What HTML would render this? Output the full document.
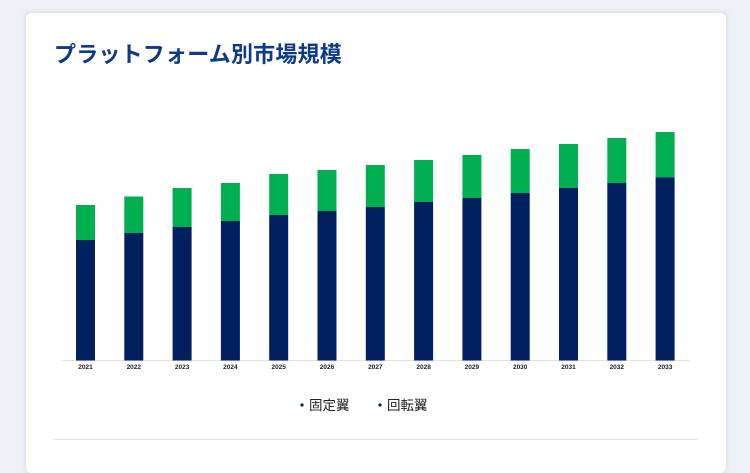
<!DOCTYPE html>
<html><head><meta charset="utf-8"><style>
html,body{margin:0;width:750px;height:453px;background:#eef1f6;overflow:hidden;font-family:"Liberation Sans","Noto Sans CJK JP",sans-serif}
.card{position:absolute;left:26px;top:13px;width:700px;height:460px;background:#fff;border-radius:6px;box-shadow:0 0 6px rgba(150,165,190,.35)}
h1{position:absolute;left:54px;top:37px;margin:0;font-size:22px;font-weight:bold;color:#0d3a8a;font-family:"Liberation Sans","Noto Sans CJK JP",sans-serif;letter-spacing:0.2px}
</style></head><body>
<div class="card"></div>
<h1>プラットフォーム別市場規模</h1>
<svg style="position:absolute;left:0;top:0" width="750" height="453">
<line x1="61" y1="360.5" x2="689" y2="360.5" stroke="#e2e2e2" stroke-width="1"/>
<g id="bars"></g>
<line x1="54" y1="439.5" x2="697" y2="439.5" stroke="#e3e3e3" stroke-width="1"/>
<circle cx="302" cy="405" r="1.6" fill="#002060"/>
<text x="309" y="410" font-size="13.5" fill="#222" font-family="Liberation Sans,Noto Sans CJK JP,sans-serif">固定翼</text>
<circle cx="380" cy="405" r="1.6" fill="#002060"/>
<text x="387" y="410" font-size="13.5" fill="#222" font-family="Liberation Sans,Noto Sans CJK JP,sans-serif">回転翼</text>
</svg>
<script>
var g=[205,196.5,188,183,174,170,165,160,155,149,144,138,132];
var n=[240,233,227,221,215,211,207,202,198,193,188,183,177.3];
var s='';
for(var i=0;i<13;i++){var x=76+i*48.3;
s+='<rect x="'+x+'" y="'+g[i]+'" width="19" height="'+(n[i]-g[i])+'" fill="#00b050"/>';
s+='<rect x="'+x+'" y="'+n[i]+'" width="19" height="'+(360.5-n[i])+'" fill="#002060"/>';
s+='<text x="'+(x+9.5)+'" y="369" font-size="6.5" font-weight="bold" text-anchor="middle" fill="#222" font-family="Liberation Sans,sans-serif">'+(2021+i)+'</text>';}
document.getElementById('bars').innerHTML=s;
</script>
</body></html>
